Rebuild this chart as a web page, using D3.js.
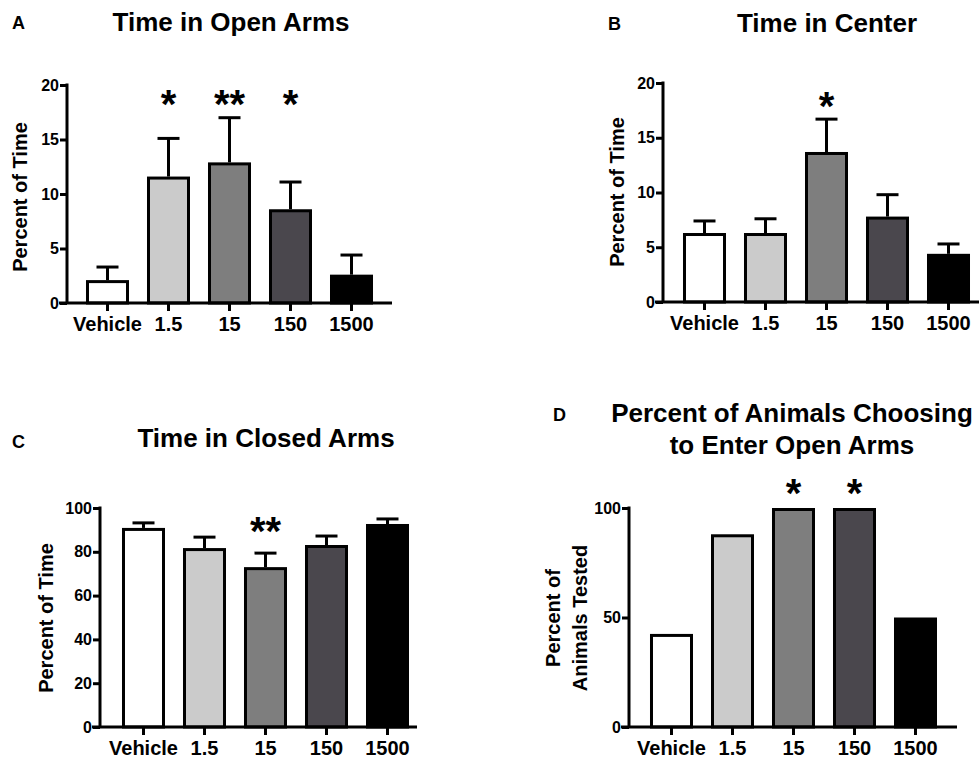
<!DOCTYPE html>
<html>
<head>
<meta charset="utf-8">
<script src="https://cdn.jsdelivr.net/npm/d3@7"></script>
<style>
  body { margin: 0; background: #fff; }
  svg { display: block; font-family: "Liberation Sans", Arial, sans-serif; font-weight: bold; }
</style>
</head>
<body>
<div id="chart"></div>
<script>
// Doses (x categories), shared by all four panels
const doses = ["Vehicle", "1.5", "15", "150", "1500"];
const barColors = ["#ffffff", "#cbcbcb", "#7e7e7e", "#4a474d", "#000000"];

// A: time in open arms (mean, mean + SEM)
const openMean = [2.1, 11.6, 12.9, 8.6, 2.6];
const openErr = [3.3, 15.1, 17.0, 11.1, 4.4];
const openStars = ["", "*", "**", "*", ""];

// B: time in center
const centerMean = [6.3, 6.3, 13.7, 7.8, 4.4];
const centerErr = [7.4, 7.6, 16.7, 9.8, 5.3];
const centerStars = ["", "", "*", "", ""];

// C: time in closed arms
const closedMean = [90.9, 81.7, 73.0, 83.1, 92.7];
const closedErr = [93.2, 86.7, 79.4, 87.2, 95.0];
const closedStars = ["", "", "**", "", ""];

// D: percent of animals entering open arms (no error bars)
const enterPct = [42.5, 88, 100, 100, 50];
const enterStars = ["", "", "*", "*", ""];

const yTicks20 = [0, 5, 10, 15, 20];
const yTicks100a = [0, 20, 40, 60, 80, 100];
const yTicks100b = [0, 50, 100];

const width = 979, height = 760;

const svg = d3.select("#chart").append("svg")
    .attr("width", width)
    .attr("height", height);

function drawPanel(p) {
    const g = svg.append("g");

    // scales
    const x = d3.scaleBand().domain(doses).range([p.bandStart, p.bandStart + 323]).padding(0.295);
    const y = d3.scaleLinear().domain([0, p.max]).range([p.y0, p.yTop]);

    // bars
    g.selectAll(".bar")
        .data(p.mean)
        .enter()
        .append("rect")
        .attr("x", (d, i) => x(doses[i]) + 1.5)
        .attr("y", d => y(d) + 1.5)
        .attr("width", x.bandwidth() - 3)
        .attr("height", d => y(0) - y(d) - 1.5)
        .attr("fill", (d, i) => barColors[i])
        .attr("stroke", "#000")
        .attr("stroke-width", 3);

    // error bars (upper only)
    if (p.err) {
        const cx = i => x(doses[i]) + x.bandwidth() / 2;
        p.err.forEach((e, i) => {
            g.append("line")
                .attr("x1", cx(i)).attr("x2", cx(i))
                .attr("y1", y(p.mean[i])).attr("y2", y(e))
                .attr("stroke", "#000").attr("stroke-width", 3);
            g.append("line")
                .attr("x1", cx(i) - 11).attr("x2", cx(i) + 11)
                .attr("y1", y(e)).attr("y2", y(e))
                .attr("stroke", "#000").attr("stroke-width", 3);
        });
    }

    // significance stars
    g.selectAll(".star")
        .data(p.stars)
        .enter()
        .append("text")
        .attr("x", (d, i) => x(doses[i]) + x.bandwidth() / 2)
        .attr("y", p.starY)
        .attr("text-anchor", "middle")
        .attr("font-size", 40)
        .text(d => d);

    // y axis
    const yAxis = g.append("g")
        .attr("transform", `translate(${p.axisX},0)`)
        .call(d3.axisLeft(y).tickValues(p.ticks).tickSize(7).tickPadding(1).tickSizeOuter(0));
    yAxis.select(".domain").attr("stroke-width", 3).attr("d", `M0,${y(p.max) - 1.5}V${p.y0}`);
    yAxis.selectAll(".tick line").attr("stroke-width", 3);
    yAxis.selectAll(".tick text").attr("font-size", 16).attr("font-weight", "bold").attr("fill", "#000")
        .attr("font-family", "Liberation Sans, Arial, sans-serif");

    // x axis
    const xAxis = g.append("g")
        .attr("transform", `translate(0,${p.y0})`)
        .call(d3.axisBottom(x).tickSize(8).tickPadding(6).tickSizeOuter(0));
    xAxis.select(".domain").attr("stroke-width", 3).attr("d", `M${p.axisX - 8},0H${p.xEnd}`);
    xAxis.selectAll(".tick line").attr("stroke-width", 3);
    xAxis.selectAll(".tick text").attr("font-size", 20).attr("font-weight", "bold").attr("fill", "#000")
        .attr("font-family", "Liberation Sans, Arial, sans-serif");

    // y label (one or two lines)
    const yl = g.append("text")
        .attr("transform", `translate(${p.ylabelX},${p.ylabelY}) rotate(-90)`)
        .attr("text-anchor", "middle")
        .attr("font-size", 20);
    p.ylabel.forEach((t, i) => {
        yl.append("tspan").attr("x", 0).attr("dy", i === 0 ? 0 : 27).text(t);
    });

    // title
    const tl = g.append("text")
        .attr("x", p.titleX).attr("y", p.titleY)
        .attr("text-anchor", "middle")
        .attr("font-size", 26);
    p.title.forEach((t, i) => {
        tl.append("tspan").attr("x", p.titleX).attr("dy", i === 0 ? 0 : 32).text(t);
    });

    // panel letter
    g.append("text")
        .attr("x", p.letterX).attr("y", p.letterY)
        .attr("font-size", 18)
        .text(p.letter);
}

drawPanel({
    letter: "A", letterX: 12, letterY: 29,
    title: ["Time in Open Arms"], titleX: 231, titleY: 31,
    ylabel: ["Percent of Time"], ylabelX: 27, ylabelY: 197,
    mean: openMean, err: openErr, stars: openStars, starY: 118,
    max: 20, ticks: yTicks20, y0: 303, yTop: 85,
    axisX: 67, bandStart: 68, xEnd: 392
});

drawPanel({
    letter: "B", letterX: 608, letterY: 30,
    title: ["Time in Center"], titleX: 827, titleY: 32,
    ylabel: ["Percent of Time"], ylabelX: 624, ylabelY: 192,
    mean: centerMean, err: centerErr, stars: centerStars, starY: 120,
    max: 20, ticks: yTicks20, y0: 302, yTop: 83,
    axisX: 663, bandStart: 665, xEnd: 979
});

drawPanel({
    letter: "C", letterX: 12, letterY: 448,
    title: ["Time in Closed Arms"], titleX: 266, titleY: 447,
    ylabel: ["Percent of Time"], ylabelX: 53, ylabelY: 618,
    mean: closedMean, err: closedErr, stars: closedStars, starY: 545,
    max: 100, ticks: yTicks100a, y0: 727, yTop: 508,
    axisX: 100, bandStart: 104, xEnd: 417
});

drawPanel({
    letter: "D", letterX: 553, letterY: 421,
    title: ["Percent of Animals Choosing", "to Enter Open Arms"], titleX: 792, titleY: 422,
    ylabel: ["Percent of", "Animals Tested"], ylabelX: 560, ylabelY: 618,
    mean: enterPct, err: null, stars: enterStars, starY: 507,
    max: 100, ticks: yTicks100b, y0: 727, yTop: 508,
    axisX: 629, bandStart: 632, xEnd: 957
});
</script>
</body>
</html>
